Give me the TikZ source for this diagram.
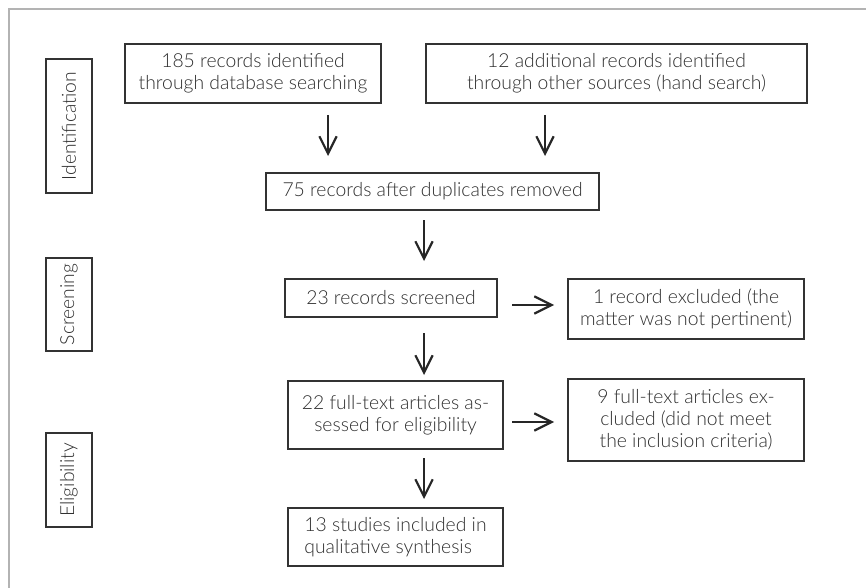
\documentclass[tikz,border=0pt]{standalone}
\usepackage{fontspec}
\setmainfont{Lato Light}
\usetikzlibrary{arrows.meta}
\definecolor{txt}{HTML}{2E2E2E}
\definecolor{edge}{HTML}{333333}
\definecolor{frame}{HTML}{B3B3B3}
\begin{document}
\begin{tikzpicture}[x=0.75pt,y=-0.75pt,
  box/.style={draw=edge,line width=1.1pt,inner sep=0pt,align=center,text=txt,
    font=\fontsize{14.5}{16.5}\selectfont},
  side/.style={box,rotate=90,minimum height=34.5pt},
  arr/.style={line width=1.6pt,draw=black!85,-{Straight Barb[length=13pt,width=13pt,line width=1.6pt]}}]
\useasboundingbox (0,0) rectangle (866,588);
% frame
\draw[frame,line width=1.6pt] (9,588) -- (9,9) -- (866,9);
% stage labels
\node[side,minimum width=100.5pt] (ident) at (69,126) {Identification};
\node[side,minimum width=69.75pt] (screen) at (69,304.5) {Screening};
\node[side,minimum width=70.5pt] (elig) at (69,480) {Eligibility};
% boxes
\node[box,minimum width=192pt,minimum height=44.25pt] (b185) at (253,73.5)
  {185 records identified\\through database searching};
\node[box,minimum width=285.75pt,minimum height=44.25pt] (b12) at (616.5,73.5)
  {12 additional records identified\\through other sources (hand search)};
\node[box,minimum width=249.75pt,minimum height=27.75pt] (b75) at (432.5,191.5)
  {75 records after duplicates removed};
\node[box,minimum width=159pt,minimum height=28.5pt] (b23) at (391,298)
  {23 records screened};
\node[box,minimum width=177pt,minimum height=45pt] (b1) at (686,309)
  {1 record excluded (the\\matter was not pertinent)};
\node[box,minimum width=161.25pt,minimum height=51pt] (b22) at (395.5,415)
  {22 full-text articles as-\\sessed for eligibility};
\node[box,minimum width=177pt,minimum height=61.5pt] (b9) at (686,420)
  {9 full-text articles ex-\\cluded (did not meet\\the inclusion criteria)};
\node[box,align=left,minimum width=161.25pt,minimum height=43.5pt] (b13) at (395.5,537)
  {13 studies included in\\qualitative synthesis};
% arrow end points
\coordinate (a1s) at (328,115); \coordinate (a1e) at (328,156);
\coordinate (a2s) at (545,115); \coordinate (a2e) at (545,156);
\coordinate (a3s) at (424,220); \coordinate (a3e) at (424,261);
\coordinate (a4s) at (424,333); \coordinate (a4e) at (424,375);
\coordinate (a5s) at (424,458); \coordinate (a5e) at (424,499);
\coordinate (r1s) at (512,305); \coordinate (r1e) at (554,305);
\coordinate (r2s) at (512,422); \coordinate (r2e) at (554,422);
\draw[arr] (a1s) -- (a1e);
\draw[arr] (a2s) -- (a2e);
\draw[arr] (a3s) -- (a3e);
\draw[arr] (a4s) -- (a4e);
\draw[arr] (a5s) -- (a5e);
\draw[arr] (r1s) -- (r1e);
\draw[arr] (r2s) -- (r2e);
\end{tikzpicture}
\end{document}
